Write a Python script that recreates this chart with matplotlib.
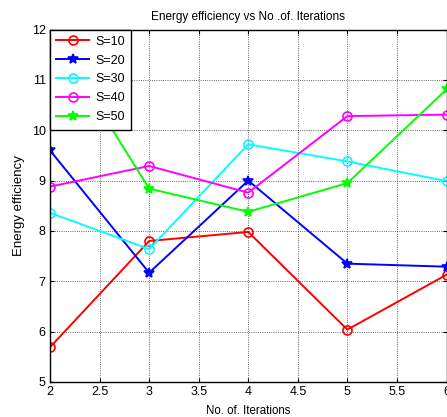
import matplotlib
matplotlib.use("Agg")
import matplotlib.pyplot as plt

plt.rcParams['font.family'] = ['Liberation Sans', 'DejaVu Sans']

iterations = [2, 3, 4, 5, 6]
s10 = [5.69, 7.80, 7.98, 6.04, 7.13]
s20 = [9.60, 7.17, 9.00, 7.35, 7.29]
s30 = [8.36, 7.64, 9.72, 9.38, 8.99]
s40 = [8.88, 9.29, 8.76, 10.28, 10.31]
s50 = [12.0, 8.84, 8.38, 8.95, 10.81]
labels = ["S=10", "S=20", "S=30", "S=40", "S=50"]
xticks = [2, 2.5, 3, 3.5, 4, 4.5, 5, 5.5, 6]
yticks = [5, 6, 7, 8, 9, 10, 11, 12]

fig = plt.figure(figsize=(4.47, 4.17), dpi=100)
ax = fig.add_axes([50/447, 35/417, 396.5/447, 352.5/417])

styles = [("#ff0000", "o"), ("#0000ff", "*"), ("#00ffff", "o"), ("#ff00ff", "o"), ("#00ff00", "*")]
for ys, lab, (c, m) in zip([s10, s20, s30, s40, s50], labels, styles):
    ax.plot(iterations, ys, color=c, marker=m, markersize=6.5 if m == "o" else 7,
            markerfacecolor="none" if m == "o" else c, markeredgewidth=1.2,
            linewidth=1.4, label=lab)

ax.set_xlim(2, 6)
ax.set_ylim(5, 12)
ax.set_xticks(xticks)
ax.set_xticklabels(["2", "2.5", "3", "3.5", "4", "4.5", "5", "5.5", "6"])
ax.set_yticks(yticks)
ax.grid(True, color="black", linestyle=":", linewidth=0.6, alpha=0.8)
ax.tick_params(direction="in", length=3, labelsize=9, top=True, right=True, pad=3)
for sp in ax.spines.values():
    sp.set_linewidth(1.0)

ax.set_title("Energy efficiency vs No .of. Iterations", fontsize=8.5, pad=7)
ax.set_xlabel("No. of. Iterations", fontsize=8.3, labelpad=5)
ax.set_ylabel("Energy efficiency", fontsize=9.5, labelpad=5)

leg = ax.legend(loc="upper left", fontsize=9, frameon=True, fancybox=False,
                edgecolor="black", framealpha=1, borderaxespad=0, handlelength=2.6,
                handletextpad=0.5, labelspacing=0.55, borderpad=0.5)
leg.get_frame().set_linewidth(1.0)

fig.savefig("out.png", dpi=100)
